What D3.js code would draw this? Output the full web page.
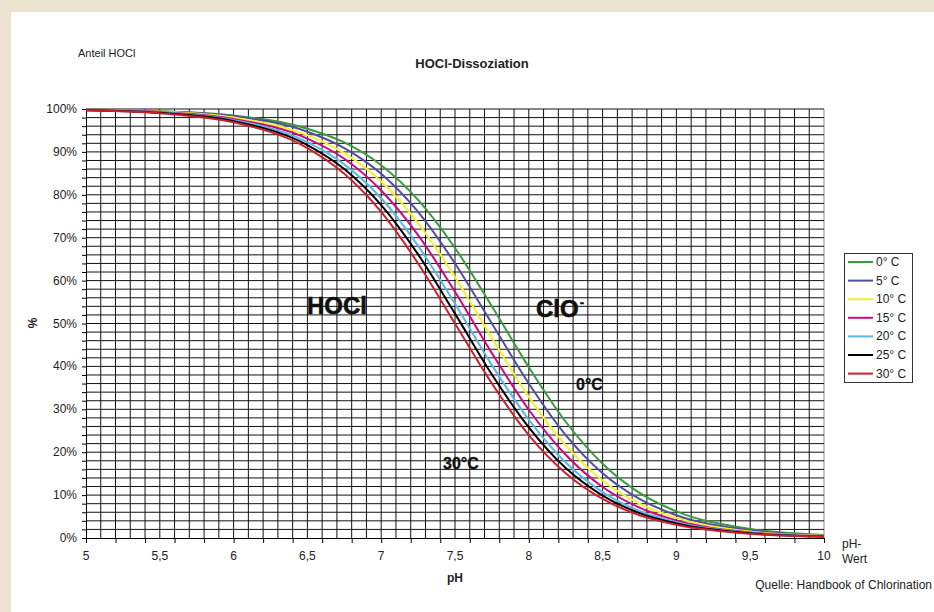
<!DOCTYPE html>
<html>
<head>
<meta charset="utf-8">
<script src="https://cdn.jsdelivr.net/npm/d3@7"></script>
<style>
  body { margin: 0; background: #ebe3cf; }
  svg { display: block; font-family: "Liberation Sans", Arial, sans-serif; }
</style>
</head>
<body>
<div id="chart"></div>
<script>
const phValues = [5, 5.5, 6, 6.5, 6.75, 7, 7.25, 7.5, 7.75, 8, 8.25, 8.5, 8.75, 9, 9.5, 10];

// share of HOCl in %, one list per temperature
const hocl0 = [99.8, 99.5, 98.5, 95.4, 92.2, 86.9, 78.8, 67.6, 54.0, 39.8, 27.1, 17.3, 10.5, 6.2, 2.1, 0.7];
const hocl5 = [99.8, 99.4, 98.3, 94.7, 90.9, 84.9, 76.0, 64.0, 50.0, 36.0, 24.0, 15.1, 9.1, 5.3, 1.8, 0.6];
const hocl10 = [99.8, 99.4, 98.0, 93.9, 89.7, 83.1, 73.4, 60.8, 46.6, 32.9, 21.6, 13.4, 8.0, 4.7, 1.5, 0.5];
const hocl15 = [99.8, 99.3, 97.7, 93.1, 88.4, 81.0, 70.6, 57.4, 43.1, 29.9, 19.4, 11.9, 7.1, 4.1, 1.3, 0.4];
const hocl20 = [99.7, 99.2, 97.4, 92.3, 87.1, 79.2, 68.1, 54.6, 40.3, 27.6, 17.6, 10.7, 6.3, 3.7, 1.2, 0.4];
const hocl25 = [99.7, 99.1, 97.2, 91.6, 86.0, 77.6, 66.1, 52.3, 38.1, 25.8, 16.3, 9.9, 5.8, 3.4, 1.1, 0.35];
const hocl30 = [99.7, 99.0, 96.9, 90.9, 84.9, 76.0, 64.0, 50.0, 36.0, 24.0, 15.1, 9.1, 5.3, 3.1, 1.0, 0.3];

const seriesNames = ["0° C", "5° C", "10° C", "15° C", "20° C", "25° C", "30° C"];
const seriesColors = ["#3a9a3e", "#4f4f9e", "#f4f030", "#cc0a7e", "#5fb4ea", "#000000", "#cc1f2e"];
const seriesValues = [hocl0, hocl5, hocl10, hocl15, hocl20, hocl25, hocl30];

const xTickLabels = [5, 5.5, 6, 6.5, 7, 7.5, 8, 8.5, 9, 9.5, 10];
const yTickLabels = [0, 10, 20, 30, 40, 50, 60, 70, 80, 90, 100];

const w = 934, h = 612;
const plotLeft = 86, plotRight = 824, plotTop = 109, plotBottom = 538;

const svg = d3.select("#chart").append("svg").attr("width", w).attr("height", h);

// white panel
svg.append("rect").attr("x", 11).attr("y", 12).attr("width", w - 11).attr("height", h - 12).attr("fill", "#fff");

const xScale = d3.scaleLinear().domain([5, 10]).range([plotLeft, plotRight]);
const yScale = d3.scaleLinear().domain([0, 100]).range([plotBottom, plotTop]);

// grid
const grid = svg.append("g").attr("stroke", "#111").attr("stroke-width", 1);
grid.selectAll(".vg").data(d3.range(1, 51).map((i) => 5 + i / 10)).enter().append("line")
  .attr("x1", (d) => xScale(d)).attr("x2", (d) => xScale(d))
  .attr("y1", plotTop).attr("y2", plotBottom)
  .attr("stroke", (d, i) => (i === 49 ? "#888" : "#111"));
grid.selectAll(".hg").data(d3.range(1, 51).map((i) => i * 2)).enter().append("line")
  .attr("x1", plotLeft).attr("x2", plotRight)
  .attr("y1", (d) => yScale(d)).attr("y2", (d) => yScale(d));

// axes
const xAxis = d3.axisBottom(xScale).tickValues(d3.range(0, 26).map((i) => 5 + i * 0.2)).tickSize(5).tickFormat("");
svg.append("g").attr("transform", `translate(0,${plotBottom})`).call(xAxis)
  .call((g) => g.selectAll("path,line").attr("stroke", "#000"));

const yAxis = d3.axisLeft(yScale).tickValues(d3.range(0, 51).map((i) => i * 2)).tickSize(4).tickFormat("");
svg.append("g").attr("transform", `translate(${plotLeft},0)`).call(yAxis)
  .call((g) => g.selectAll("path,line").attr("stroke", "#000"));

svg.append("g").selectAll("text").data(xTickLabels).enter().append("text")
  .attr("x", (d) => xScale(d)).attr("y", 560)
  .attr("text-anchor", "middle").attr("font-size", 12).attr("fill", "#222")
  .text((d) => String(d).replace(".", ","));

svg.append("g").selectAll("text").data(yTickLabels).enter().append("text")
  .attr("x", 77).attr("y", (d) => yScale(d) + 4)
  .attr("text-anchor", "end").attr("font-size", 12).attr("fill", "#222")
  .text((d) => d + "%");

// curves
const line = d3.line()
  .x((d, i) => xScale(phValues[i]))
  .y((d) => yScale(d))
  .curve(d3.curveMonotoneX);

svg.append("g").selectAll("path").data(seriesValues).enter().append("path")
  .attr("d", (d) => line(d))
  .attr("fill", "none")
  .attr("stroke", (d, i) => seriesColors[i])
  .attr("stroke-width", 2);

// texts
svg.append("text").attr("x", 78).attr("y", 57).attr("font-size", 11).attr("fill", "#222").text("Anteil HOCl");
svg.append("text").attr("x", 472).attr("y", 68).attr("text-anchor", "middle")
  .attr("font-size", 13).attr("font-weight", "bold").attr("fill", "#222").text("HOCl-Dissoziation");
svg.append("text").attr("transform", "translate(37,323) rotate(-90)").attr("text-anchor", "middle")
  .attr("font-size", 12).attr("font-weight", "bold").attr("fill", "#222").text("%");
svg.append("text").attr("x", 455).attr("y", 582).attr("text-anchor", "middle")
  .attr("font-size", 12).attr("font-weight", "bold").attr("fill", "#222").text("pH");
svg.append("text").attr("x", 842).attr("y", 548).attr("font-size", 12).attr("fill", "#222").text("pH-");
svg.append("text").attr("x", 842).attr("y", 563).attr("font-size", 12).attr("fill", "#222").text("Wert");
svg.append("text").attr("x", 932).attr("y", 589).attr("text-anchor", "end")
  .attr("font-size", 12).attr("fill", "#222").text("Quelle: Handbook of Chlorination");

const big = svg.append("g").attr("font-weight", "bold").attr("fill", "#111")
  .attr("stroke", "#111").attr("stroke-width", 0.6);
big.append("text").attr("x", 307).attr("y", 314).attr("font-size", 24).text("HOCl");
big.append("text").attr("x", 536).attr("y", 317).attr("font-size", 24).text("ClO");
big.append("text").attr("x", 580).attr("y", 307).attr("font-size", 12).text("-");
big.append("text").attr("x", 576).attr("y", 390).attr("font-size", 16).attr("stroke-width", 0.3).text("0°C");
big.append("text").attr("x", 443).attr("y", 469).attr("font-size", 16).attr("stroke-width", 0.3).text("30°C");

// legend
const legend = svg.append("g");
legend.append("rect").attr("x", 844.5).attr("y", 253.5).attr("width", 68).attr("height", 129)
  .attr("fill", "#fff").attr("stroke", "#333");
const rows = legend.selectAll("g").data(seriesNames).enter().append("g")
  .attr("transform", (d, i) => `translate(0,${262 + i * 18.6})`);
rows.append("line").attr("x1", 848).attr("x2", 873).attr("y1", 0).attr("y2", 0)
  .attr("stroke", (d, i) => seriesColors[i]).attr("stroke-width", 2);
rows.append("text").attr("x", 876).attr("y", 4).attr("font-size", 12).attr("fill", "#222").text((d) => d);
</script>
</body>
</html>
